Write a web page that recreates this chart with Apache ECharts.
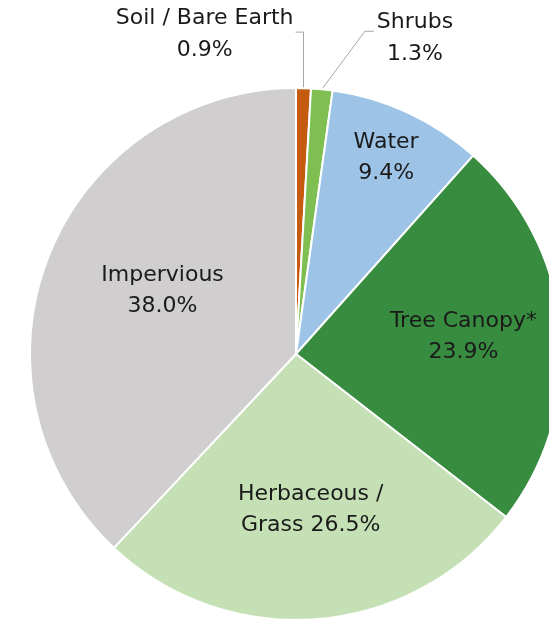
<!DOCTYPE html>
<html>
<head>
<meta charset="utf-8">
<script src="https://cdn.jsdelivr.net/npm/echarts@6/dist/echarts.min.js"></script>
<style>
html,body{margin:0;padding:0;background:#fff;}
#chart{width:549px;height:623px;}
</style>
</head>
<body>
<div id="chart"></div>
<script>
// Data (clockwise from 12 o'clock)
const categories = ['Soil / Bare Earth', 'Shrubs', 'Water', 'Tree Canopy*', 'Herbaceous / Grass', 'Impervious'];
const values = [0.9, 1.3, 9.4, 23.9, 26.5, 38.0];
const colors = ['#C55A11', '#7FBF52', '#9DC3E6', '#388C3F', '#C5E0B4', '#D0CECE'];

// label adjustments (presentation only)
const innerShift = { 2: [33, -73], 3: [32, -5], 4: [4, 20], 5: [-7, -13] };

const chart = echarts.init(document.getElementById('chart'));
const data = categories.map((c, i) => {
  const item = { name: c, value: values[i], itemStyle: { color: colors[i] } };
  if (i < 2) {
    item.label = { position: 'outside', lineHeight: 32 };
    item.labelLine = { show: true, length: 50, length2: 8, lineStyle: { color: '#A6A6A6', width: 1 } };
  }
  return item;
});

chart.setOption({
  backgroundColor: '#fff',
  animation: false,
  series: [{
    type: 'pie',
    center: [296, 354],
    radius: 266,
    startAngle: 90,
    clockwise: true,
    avoidLabelOverlap: false,
    itemStyle: { borderColor: '#fff', borderWidth: 2 },
    label: {
      show: true,
      position: 'inside',
      fontFamily: 'DejaVu Sans',
      fontSize: 22,
      lineHeight: 31,
      color: '#1a1a1a',
      align: 'center',
      formatter: function (p) {
        const v = p.value.toFixed(1) + '%';
        if (p.name === 'Herbaceous / Grass') return 'Herbaceous /\nGrass ' + v;
        return p.name + '\n' + v;
      }
    },
    labelLine: { show: false },
    labelLayout: function (params) {
      const i = params.dataIndex;
      if (i === 0 || i === 1) {
        const p0 = params.labelLinePoints[0];
        const w = params.labelRect.width;
        if (i === 0) {
          const elbow = [p0[0], p0[1] - 56];
          const end = [elbow[0] - 8, elbow[1]];
          return { x: end[0] - 2 - w / 2, y: end[1] + 2, align: 'center', verticalAlign: 'middle', labelLinePoints: [p0, elbow, end] };
        } else {
          const elbow = [p0[0] + 43, p0[1] - 58];
          const end = [elbow[0] + 9, elbow[1]];
          return { x: end[0] + 3 + w / 2, y: end[1] + 7, align: 'center', verticalAlign: 'middle', labelLinePoints: [p0, elbow, end] };
        }
      }
      const s = innerShift[i] || [0, 0];
      return { dx: s[0], dy: s[1] };
    },
    data: data
  }]
});
</script>
</body>
</html>
